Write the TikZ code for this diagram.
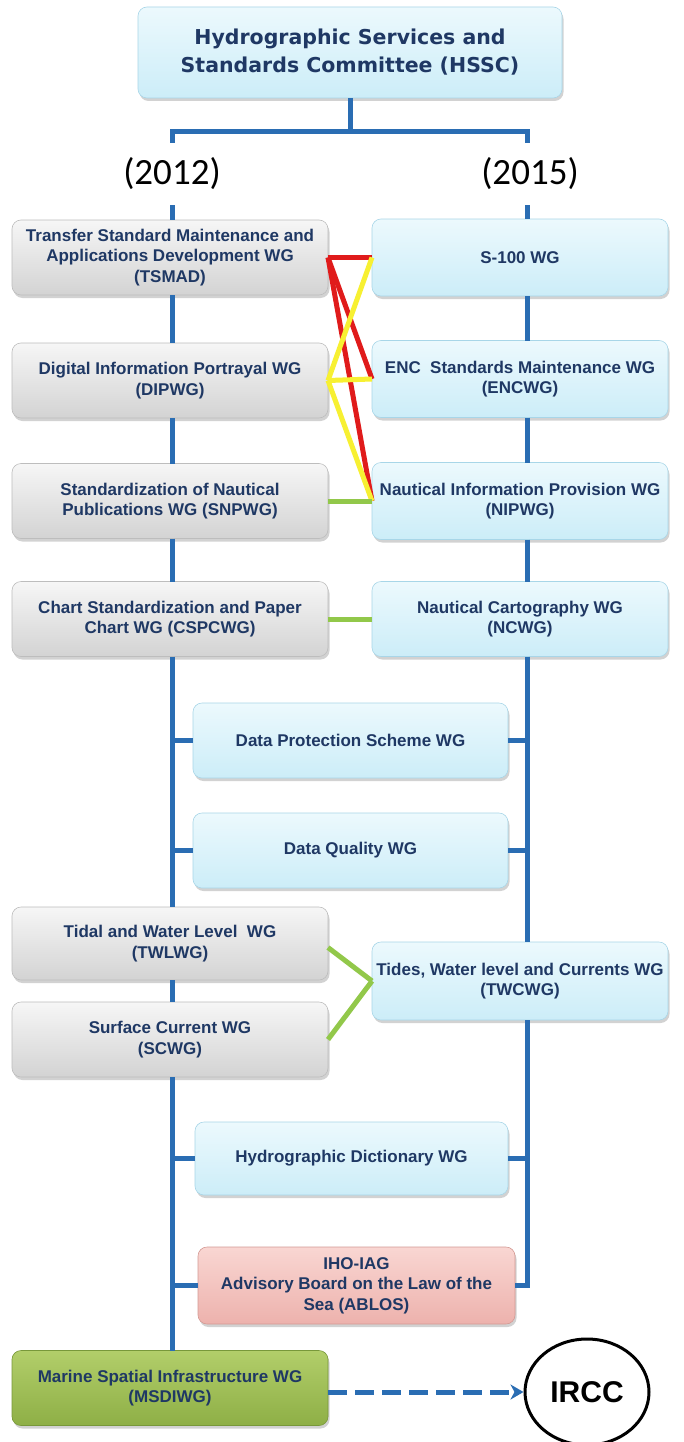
\documentclass[tikz,border=0pt]{standalone}
\usepackage{fontspec}
\setmainfont{Liberation Sans}
\newfontfamily\boxfont{Liberation Sans Bold}
\newfontfamily\titlefont{DejaVu Sans Bold}
\newfontfamily\yearfont{Carlito}
\usetikzlibrary{shadows,arrows.meta,shapes.geometric,calc}
\definecolor{txt}{HTML}{1F3864}
\definecolor{bluel}{HTML}{2A6DB3}
\definecolor{grayT}{HTML}{F6F6F6}
\definecolor{grayB}{HTML}{D3D3D3}
\definecolor{grayD}{HTML}{BDBDBD}
\definecolor{blueT}{HTML}{ECF9FD}
\definecolor{blueB}{HTML}{CCEDF8}
\definecolor{blueD}{HTML}{A8D6E8}
\definecolor{pinkT}{HTML}{F9D6D2}
\definecolor{pinkB}{HTML}{EDB2AD}
\definecolor{pinkD}{HTML}{D49A94}
\definecolor{greenT}{HTML}{B2CE6A}
\definecolor{greenB}{HTML}{8EAF46}
\definecolor{greenD}{HTML}{78983A}
\definecolor{redl}{HTML}{E01B1B}
\definecolor{yell}{HTML}{F7F032}
\definecolor{greenl}{HTML}{92C84A}
\begin{document}
\begin{tikzpicture}[x=1pt,y=-1pt,
  box/.style={rounded corners=9pt, inner sep=0pt, outer sep=0pt, align=center,
    font=\boxfont\fontsize{17}{20.5}\selectfont, text=txt, line width=0.6pt,
    drop shadow={shadow xshift=1.5pt, shadow yshift=-3pt, opacity=0.35}},
  graybox/.style={box, draw=grayD, top color=grayT, bottom color=grayB},
  bluebox/.style={box, draw=blueD, top color=blueT, bottom color=blueB},
  pinkbox/.style={box, draw=pinkD, top color=pinkT, bottom color=pinkB},
  greenbox/.style={box, draw=greenD, top color=greenT, bottom color=greenB},
  lbox/.style={minimum width=316pt, minimum height=75pt},
  rbox/.style={minimum width=296pt, minimum height=77pt},
  year/.style={font=\yearfont\fontsize{37}{40}\selectfont, text=black, inner sep=0pt, minimum height=62pt},
  bline/.style={draw=bluel, line width=5pt},
  redline/.style={draw=redl, line width=5pt},
  yelline/.style={draw=yell, line width=5pt},
  grnline/.style={draw=greenl, line width=5pt},
  dasharrow/.style={draw=bluel, line width=5pt, dash pattern=on 19pt off 8pt,
    -{Stealth[length=13pt,width=15pt,inset=4pt]}}
]
\fill[white] (0,0) rectangle (683,1442);
\useasboundingbox (0,0) rectangle (683,1442);

% title
\node[bluebox, minimum width=424pt, minimum height=91pt,
  font=\titlefont\fontsize{20.5}{28}\selectfont, text=txt] (hssc) at (350,52.5)
  {Hydrographic Services and\\Standards Committee (HSSC)};

\coordinate (hub) at (350,132);
\coordinate (bl) at (172,132);
\coordinate (br) at (527,132);

\node[year] (y12) at (172,174) {(2012)};
\node[year] (y15) at (530,174) {(2015)};

% left column
\node[graybox, lbox] (tsmad) at (170,257.5) {Transfer Standard Maintenance and\\Applications Development WG\\(TSMAD)};
\node[graybox, lbox] (dipwg) at (170,380.5) {Digital Information Portrayal WG\\(DIPWG)};
\node[graybox, lbox] (snpwg) at (170,501) {Standardization of Nautical\\Publications WG (SNPWG)};
\node[graybox, lbox] (cspcwg) at (170,619) {Chart Standardization and Paper\\Chart WG (CSPCWG)};
\node[graybox, lbox, minimum height=73pt] (twlwg) at (170,943.5) {Tidal and Water Level\ \ WG\\(TWLWG)};
\node[graybox, lbox] (scwg) at (170,1039.5) {Surface Current WG\\(SCWG)};
\node[greenbox, lbox] (msdi) at (170,1388) {Marine Spatial Infrastructure WG\\(MSDIWG)};

% right column
\node[bluebox, rbox] (s100) at (520,257.5) {S-100 WG};
\node[bluebox, rbox] (encwg) at (520,379) {ENC\ \ Standards Maintenance WG\\(ENCWG)};
\node[bluebox, rbox] (nipwg) at (520,501) {Nautical Information Provision WG\\(NIPWG)};
\node[bluebox, rbox, minimum height=75pt] (ncwg) at (520,619) {Nautical Cartography WG\\(NCWG)};
\node[bluebox, rbox, minimum height=78pt] (twcwg) at (520,981) {Tides, Water level and Currents WG\\(TWCWG)};

% middle
\node[bluebox, minimum width=315pt, minimum height=75pt] (dps) at (350.5,740.5) {Data Protection Scheme WG};
\node[bluebox, minimum width=315pt, minimum height=75pt] (dq) at (350.5,850.5) {Data Quality WG};
\node[bluebox, minimum width=313pt, minimum height=73pt] (hd) at (351.5,1158.5) {Hydrographic Dictionary WG};
\node[pinkbox, minimum width=317pt, minimum height=77pt] (ablos) at (356.5,1285.5) {IHO-IAG\\Advisory Board on the Law of the\\Sea (ABLOS)};

\node[ellipse, draw=black, line width=3pt, fill=white, minimum width=124pt, minimum height=106pt,
  inner sep=0pt, font=\boxfont\fontsize{30}{32}\selectfont] (ircc) at (587,1392) {IRCC};

% blue tree
\draw[bline] (hssc.south) -- (hub);
\draw[bline] (y12.north -| bl) -- (bl) -- (br) -- (y15.north -| br);
\draw[bline] (y12.south -| bl) -- (tsmad.north -| bl);
\draw[bline] (tsmad.south -| bl) -- (dipwg.north -| bl);
\draw[bline] (dipwg.south -| bl) -- (snpwg.north -| bl);
\draw[bline] (snpwg.south -| bl) -- (cspcwg.north -| bl);
\draw[bline] (cspcwg.south -| bl) -- (twlwg.north -| bl);
\draw[bline] (twlwg.south -| bl) -- (scwg.north -| bl);
\draw[bline] (scwg.south -| bl) -- (msdi.north -| bl);
\draw[bline] (dps.west -| bl) -- (dps.west);
\draw[bline] (dq.west -| bl) -- (dq.west);
\draw[bline] (hd.west -| bl) -- (hd.west);
\draw[bline] (ablos.west -| bl) -- (ablos.west);

\draw[bline] (y15.south -| br) -- (s100.north -| br);
\draw[bline] (s100.south -| br) -- (encwg.north -| br);
\draw[bline] (encwg.south -| br) -- (nipwg.north -| br);
\draw[bline] (nipwg.south -| br) -- (ncwg.north -| br);
\draw[bline] (ncwg.south -| br) -- (twcwg.north -| br);
\draw[bline] (twcwg.south -| br) |- (ablos.east);
\draw[bline] (dps.east) -- (dps.east -| br);
\draw[bline] (dq.east) -- (dq.east -| br);
\draw[bline] (hd.east) -- (hd.east -| br);

% red / yellow / green links
\draw[redline] (tsmad.east) -- (s100.west);
\draw[redline] (tsmad.east) -- (encwg.west);
\draw[redline] (tsmad.east) -- (nipwg.west);
\draw[yelline] (s100.west) -- (dipwg.east);
\draw[yelline] (dipwg.east) -- (encwg.west);
\draw[yelline] (dipwg.east) -- (nipwg.west);
\draw[grnline] (snpwg.east) -- (nipwg.west);
\draw[grnline] (cspcwg.east) -- (ncwg.west);
\draw[grnline] ($(twlwg.east)+(0,4)$) -- (twcwg.west);
\draw[grnline] (scwg.east) -- (twcwg.west);

% dashed arrow
\draw[dasharrow] (msdi.east |- ircc) -- (ircc.west);
\end{tikzpicture}
\end{document}
